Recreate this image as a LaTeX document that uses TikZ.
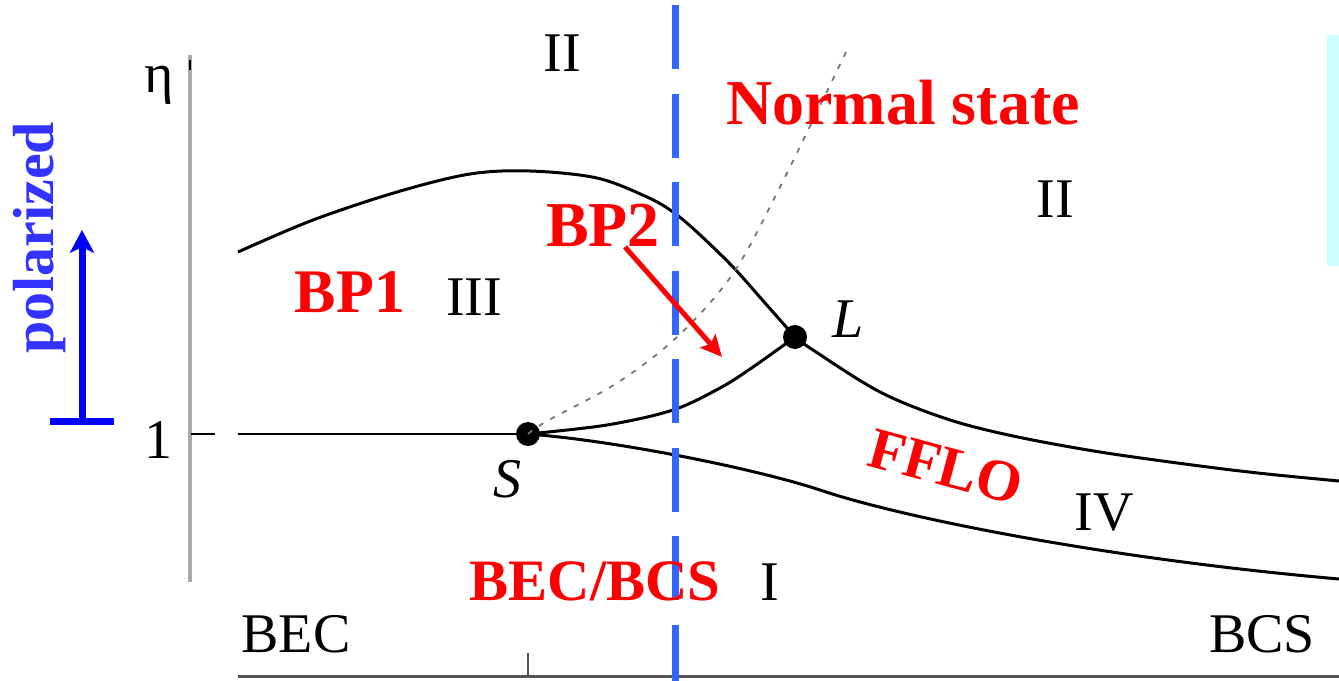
\documentclass[tikz,border=0pt]{standalone}
\usepackage{fontspec}
\setmainfont{Liberation Serif}
\usetikzlibrary{arrows.meta}
\definecolor{dashblue}{RGB}{51,102,255}
\definecolor{polblue}{RGB}{51,51,255}
\definecolor{axisgray}{RGB}{170,170,170}
\definecolor{darkaxis}{RGB}{85,85,85}
\definecolor{lightcyan}{RGB}{204,255,255}
\tikzset{
  lbl/.style={font=\fontsize{42}{42}\selectfont, anchor=base, inner sep=0pt},
  ilbl/.style={font=\fontsize{42}{42}\selectfont\itshape, anchor=base, inner sep=0pt},
  redlbl/.style={font=\fontsize{48}{48}\selectfont\bfseries, text=red, anchor=base, inner sep=0pt},
  curve/.style={line width=2.25pt, black, line join=round},
  dotcurve/.style={line width=1.3pt, black!55, dash pattern=on 4pt off 6pt},
  phasedot/.style={circle, fill=black, inner sep=0pt, minimum size=18pt},
}
\begin{document}
\begin{tikzpicture}[x=0.75pt,y=-0.75pt]
\useasboundingbox (0,0) rectangle (1339,681);

% cyan strip at right edge
\fill[lightcyan] (1327,35) rectangle (1339,266);

% vertical eta axis
\draw[axisgray, line width=3pt] (190,55) -- (190,582);
\draw[black, line width=2pt] (190,60) -- (190,70);
\node[lbl] (eta) at (159,93) {η};
\node[lbl] (one) at (158,458) {1};
\coordinate (tickA) at (191,434);
\coordinate (tickB) at (215,434);
\draw[black, line width=1.5pt] (tickA) -- (tickB);

% bottom axis
\coordinate (bxL) at (238,676);
\coordinate (bxR) at (1339,676);
\draw[darkaxis, line width=2.25pt] (bxL) -- (bxR);
\coordinate (btA) at (528,653);
\coordinate (btB) at (528,676);
\draw[darkaxis, line width=1.3pt] (btA) -- (btB);

% phase points
\node[phasedot] (S) at (528,434) {};
\node[phasedot] (L) at (795,337) {};

% horizontal line eta = 1
\coordinate (hl) at (238,434);
\draw[black, line width=1.6pt] (hl) -- (S.center);

% upper curve
\draw[curve] plot[smooth, tension=0.55] coordinates {(238,252) (313,220) (397,192) (470,174) (530,171) (597,178) (647,197) (673,212) (698,233) (733,267) (765,303) (795,337)};
% right upper branch from L
\draw[curve] plot[smooth, tension=0.55] coordinates {(795,337) (813,350) (880,392) (947,419) (1013,436) (1100,452) (1200,466) (1267,474) (1339,481)};
% S-L branch
\draw[curve] plot[smooth, tension=0.55] coordinates {(528,434) (607,425) (673,410) (720,388) (753,367) (795,337)};
% lower branch from S
\coordinate (lowM) at (820,490);
\coordinate (lowE) at (1339,579);
\draw[curve] (S.center) .. controls (620,441) and (760,470) .. (lowM)
                         .. controls (900,517) and (1100,558) .. (lowE);
% dotted gray line from S
\draw[dotcurve] plot[smooth, tension=0.55] coordinates {(528,434) (547,421) (617,383) (677,337) (732,275) (777,193) (848,48)};

% blue dashed BEC/BCS line
\coordinate (blT) at (675,5);
\coordinate (blB) at (675,681);
\draw[dashblue, line width=5.25pt, dash pattern=on 48pt off 18.4pt] (blT) -- (blB);

% region labels
\node[lbl] (IIa) at (562,72) {II};
\node[lbl] (IIb) at (1055,218) {II};
\node[lbl] (III) at (474,315) {III};
\node[lbl] (IV) at (1104,530) {IV};
\node[lbl] (I) at (770,600) {I};
\node[ilbl] (Llab) at (848,337) {L};
\node[ilbl] (Slab) at (507,497) {S};
\node[lbl] (bec) at (296,652) {BEC};
\node[lbl] (bcs) at (1262,652) {BCS};

% red labels
\node[redlbl] (normal) at (903,125) {Normal state};
\node[redlbl] (bp2) at (603,247) {BP2};
\node[redlbl, font=\fontsize{46.5}{46.5}\selectfont\bfseries] (bp1) at (350,312) {BP1};
\node[redlbl, font=\fontsize{44}{44}\selectfont\bfseries, anchor=center, rotate=-15] (fflo) at (946,467) {FFLO};
\node[redlbl, font=\fontsize{44}{44}\selectfont\bfseries] (becbcs) at (595,600) {BEC/BCS};

% red arrow
\coordinate (bp2tail) at (625,247);
\coordinate (bp2tip) at (722,357);
\draw[red, line width=3.75pt, -{Stealth[length=16pt, width=15pt, inset=3pt]}] (bp2tail) -- (bp2tip);

% polarized arrow
\node[font=\fontsize{43.5}{44}\selectfont\bfseries, text=polblue, anchor=base, inner sep=0pt, rotate=90] (pol) at (53,238) {polarized};
\coordinate (parB) at (82,421);
\coordinate (parT) at (82,230);
\draw[blue, line width=5.25pt, -{Stealth[length=17pt, width=18pt, inset=4pt]}] (parB) -- (parT);
\coordinate (barL) at (50,421.5);
\coordinate (barR) at (114,421.5);
\draw[blue, line width=5.25pt] (barL) -- (barR);
\end{tikzpicture}
\end{document}
